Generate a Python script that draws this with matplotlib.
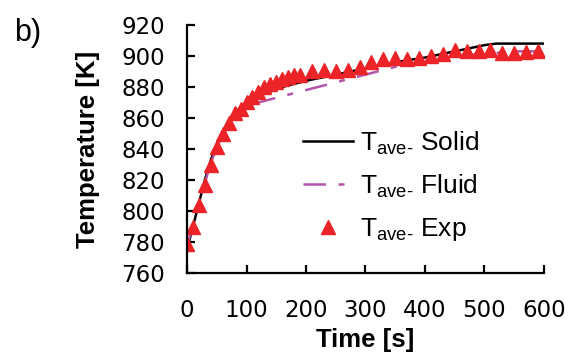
import matplotlib
matplotlib.use("Agg")
import matplotlib.pyplot as plt

plt.rcParams['font.family'] = ['Liberation Sans', 'DejaVu Sans']
plt.rcParams['mathtext.fontset'] = 'custom'
plt.rcParams['mathtext.rm'] = 'Liberation Sans'

# simulated average temperatures
t_model = [0, 10, 20, 30, 40, 50, 60, 70, 80, 90, 100, 120, 140, 160, 180,
           200, 250, 300, 350, 400, 450, 500, 520, 550, 600]
T_solid = [775, 790, 805, 820, 833, 843, 851, 858, 863, 867, 870, 874, 877,
           880, 882, 884, 888, 892, 896, 899, 903, 907, 908, 908, 908]
T_fluid = [778, 790, 804, 818, 831, 841, 849, 855, 860, 864, 867, 870, 872,
           874, 876, 878, 883, 888, 893, 896, 899, 902, 902, 903, 903]

# experiment
t_exp = [0, 10, 20, 30, 40, 50, 60, 70, 80, 90, 100, 110, 120, 130, 140, 150,
         160, 170, 180, 190, 210, 230, 250, 270, 290, 310, 330, 350, 370, 390,
         410, 430, 450, 470, 490, 510, 530, 550, 570, 590]
T_exp = [779, 790, 804, 817, 830, 841, 850, 857, 863, 866, 870, 873.5, 876.5,
         880, 882, 883, 885, 886.5, 887.5, 888, 890, 891, 890, 891, 893, 896,
         898, 898.5, 898, 899, 900, 901, 904, 903, 903, 904, 902, 902, 902.5,
         903]

fig = plt.figure(figsize=(5.71, 3.52), dpi=100)
ax = fig.add_axes([0.3275, 0.2244, 0.6252, 0.7046])

lbl = r'T$_{\mathregular{ave\text{-}}}$ '
ax.plot(t_model, T_solid, color='black', lw=1.8, label=lbl + 'Solid')
ax.plot(t_model, T_fluid, color='#b455a9', lw=1.8, dashes=(9, 5, 2.4, 5),
        label=lbl + 'Fluid')
ax.plot(t_exp, T_exp, ls='none', marker='^', ms=10.5, color='#ec2327',
        label=lbl + 'Exp')

ax.set_xlim(0, 600)
ax.set_ylim(760, 920)
ax.set_xticks(range(0, 601, 100))
ax.set_yticks(range(760, 921, 20))
for s in ['top', 'right']:
    ax.spines[s].set_visible(False)
for s in ['left', 'bottom']:
    ax.spines[s].set_linewidth(1.6)
    ax.spines[s].set_clip_on(False)
ax.tick_params(direction='in', length=6, width=1.6, labelsize=16.5)
ax.tick_params(axis='x', pad=19)
ax.tick_params(axis='y', pad=16)
for lab in ax.get_xticklabels() + ax.get_yticklabels():
    lab.set_family('DejaVu Sans')

ax.set_xlabel('Time [s]', fontsize=18.5, fontweight='bold', labelpad=4)
ax.set_ylabel('Temperature [K]', fontsize=18.5, fontweight='bold', labelpad=15)
fig.text(0.024, 0.95, 'b)', fontsize=22, va='top')

leg = ax.legend(loc='upper left', bbox_to_anchor=(0.325, 0.58), frameon=False,
                fontsize=19, handlelength=1.9, handletextpad=0.25,
                labelspacing=0.6, borderpad=0, borderaxespad=0)

fig.savefig('out.png', dpi=100)
